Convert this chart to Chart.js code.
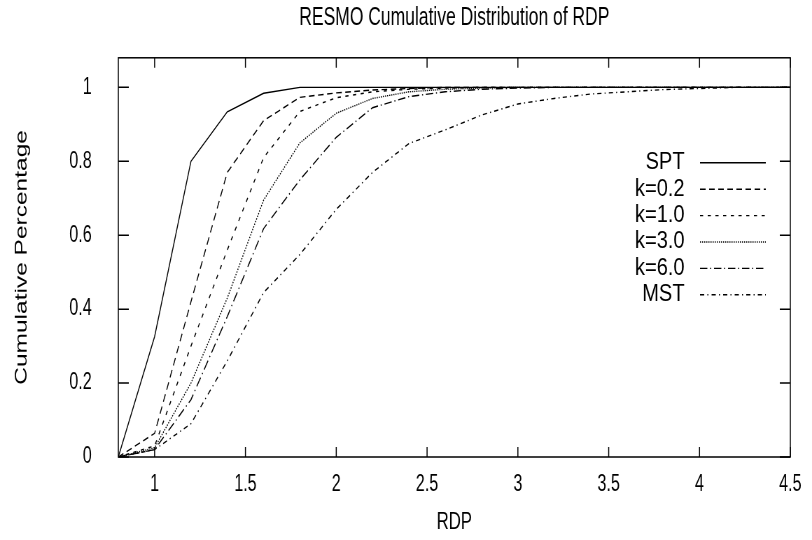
<!DOCTYPE html>
<html>
<head>
<meta charset="utf-8">
<script src="https://cdn.jsdelivr.net/npm/chart.js@4.4.1/dist/chart.umd.min.js"></script>
<style>
  html, body { margin: 0; padding: 0; background: #fff; }
</style>
</head>
<body>
<!-- drawn wide, then squeezed to 812px like the original plot -->
<canvas id="rdp" width="1160" height="540" style="display:block;width:812px;height:540px"></canvas>
<script>
const rdp = [0.8, 1.0, 1.2, 1.4, 1.6, 1.8, 2.0, 2.2, 2.4, 2.6, 2.8, 3.0, 3.2, 3.4, 3.6, 3.8, 4.0, 4.2, 4.4, 4.5];
const spt = [0, 0.326, 0.80, 0.934, 0.984, 1, 1, 1, 1, 1, 1, 1, 1, 1, 1, 1, 1, 1, 1, 1];
const k02 = [0, 0.064, 0.42, 0.77, 0.91, 0.973, 0.985, 0.993, 0.997, 1, 1, 1, 1, 1, 1, 1, 1, 1, 1, 1];
const k10 = [0, 0.03, 0.30, 0.56, 0.81, 0.935, 0.972, 0.988, 0.995, 0.998, 1, 1, 1, 1, 1, 1, 1, 1, 1, 1];
const k30 = [0, 0.025, 0.20, 0.43, 0.695, 0.85, 0.93, 0.97, 0.988, 0.995, 0.998, 1, 1, 1, 1, 1, 1, 1, 1, 1];
const k60 = [0, 0.02, 0.155, 0.38, 0.618, 0.75, 0.865, 0.945, 0.975, 0.988, 0.995, 0.998, 1, 1, 1, 1, 1, 1, 1, 1];
const mst = [0, 0.02, 0.09, 0.26, 0.445, 0.548, 0.67, 0.77, 0.848, 0.885, 0.925, 0.955, 0.97, 0.982, 0.988, 0.994, 0.997, 1, 1, 1];
const xTicks = [1, 1.5, 2, 2.5, 3, 3.5, 4, 4.5];
const yTicks = [0, 0.2, 0.4, 0.6, 0.8, 1];

const FONT = '"Liberation Sans", Arial, Helvetica, sans-serif';
Chart.defaults.font.family = FONT;
Chart.defaults.font.size = 23;
Chart.defaults.color = "#000";

function series(label, values, dash) {
  return {
    label: label,
    data: rdp.map((x, i) => ({ x: x, y: values[i] })),
    borderColor: "#000",
    borderWidth: 1.4,
    borderDash: dash,
    pointRadius: 0,
    fill: false,
    tension: 0,
  };
}

// gnuplot style box: border plus inward ticks on all four sides
const frame = {
  id: "frame",
  afterDraw(chart) {
    const { ctx, chartArea: a, scales } = chart;
    ctx.save();
    ctx.strokeStyle = "#000";
    ctx.lineWidth = 1.5;
    ctx.setLineDash([]);
    ctx.strokeRect(a.left, a.top, a.right - a.left, a.bottom - a.top);
    ctx.beginPath();
    scales.x.ticks.forEach((t) => {
      const px = scales.x.getPixelForValue(t.value);
      ctx.moveTo(px, a.bottom);
      ctx.lineTo(px, a.bottom - 10);
      ctx.moveTo(px, a.top);
      ctx.lineTo(px, a.top + 10);
    });
    scales.y.ticks.forEach((t) => {
      const py = scales.y.getPixelForValue(t.value);
      ctx.moveTo(a.left, py);
      ctx.lineTo(a.left + 15, py);
      ctx.moveTo(a.right, py);
      ctx.lineTo(a.right - 15, py);
    });
    ctx.stroke();
    ctx.restore();
  },
};

// key inside the plot: label right aligned, line sample to its right
const key = {
  id: "key",
  afterDraw(chart) {
    const { ctx, chartArea: a } = chart;
    ctx.save();
    ctx.font = "23.5px " + FONT;
    ctx.textAlign = "right";
    ctx.textBaseline = "middle";
    ctx.fillStyle = "#000";
    chart.data.datasets.forEach((ds, i) => {
      const y = a.top + 105 + i * 26.4;
      ctx.save();
      ctx.translate(a.right - 151, y);
      ctx.scale(1.22, 1); // key text is set wider than the tick labels
      ctx.fillText(ds.label, 0, 0);
      ctx.restore();
      ctx.setLineDash(ds.borderDash || []);
      ctx.lineWidth = ds.borderWidth;
      ctx.strokeStyle = ds.borderColor;
      ctx.beginPath();
      ctx.moveTo(a.right - 129, y);
      ctx.lineTo(a.right - 35, y);
      ctx.stroke();
    });
    ctx.restore();
  },
};

const rdpChart = new Chart(document.getElementById("rdp"), {
  type: "line",
  data: {
    datasets: [
      series("SPT", spt, []),
      series("k=0.2", k02, [8, 5]),
      series("k=1.0", k10, [4.5, 6.5]),
      series("k=3.0", k30, [1.5, 1.5]),
      series("k=6.0", k60, [10.5, 4, 1.5, 4]),
      series("MST", mst, [6, 4.5, 1.5, 4.5]),
    ],
  },
  options: {
    responsive: false,
    animation: false,
    layout: { padding: { left: 0, right: 31, top: 0, bottom: 0 } },
    plugins: {
      legend: { display: false },
      tooltip: { enabled: false },
      title: {
        display: true,
        text: "RESMO Cumulative Distribution of RDP",
        fullSize: false,
        color: "#000",
        font: { size: 25, weight: "normal" },
        padding: { top: 3.5, bottom: 24.3 },
      },
    },
    scales: {
      x: {
        type: "linear",
        min: 0.8,
        max: 4.5,
        afterBuildTicks: (s) => {
          s.ticks = xTicks.map((v) => ({ value: v }));
        },
        afterFit: (s) => {
          s.height = 83;
        },
        grid: { display: false },
        border: { display: false },
        ticks: { padding: 6, maxRotation: 0, autoSkip: false, callback: (v) => String(v) },
        title: { display: true, text: "RDP", font: { size: 24 }, padding: { top: 0, bottom: 3.5 } },
      },
      y: {
        type: "linear",
        min: 0,
        max: 1.08,
        afterBuildTicks: (s) => {
          s.ticks = yTicks.map((v) => ({ value: v }));
        },
        afterFit: (s) => {
          s.width = 169;
        },
        grid: { display: false },
        border: { display: false },
        ticks: { padding: 30, autoSkip: false, callback: (v) => String(v) },
        title: { display: true, text: "Cumulative Percentage", font: { size: 24.5 }, padding: { top: 17, bottom: 0 } },
      },
    },
  },
  plugins: [frame, key],
});
</script>
</body>
</html>
